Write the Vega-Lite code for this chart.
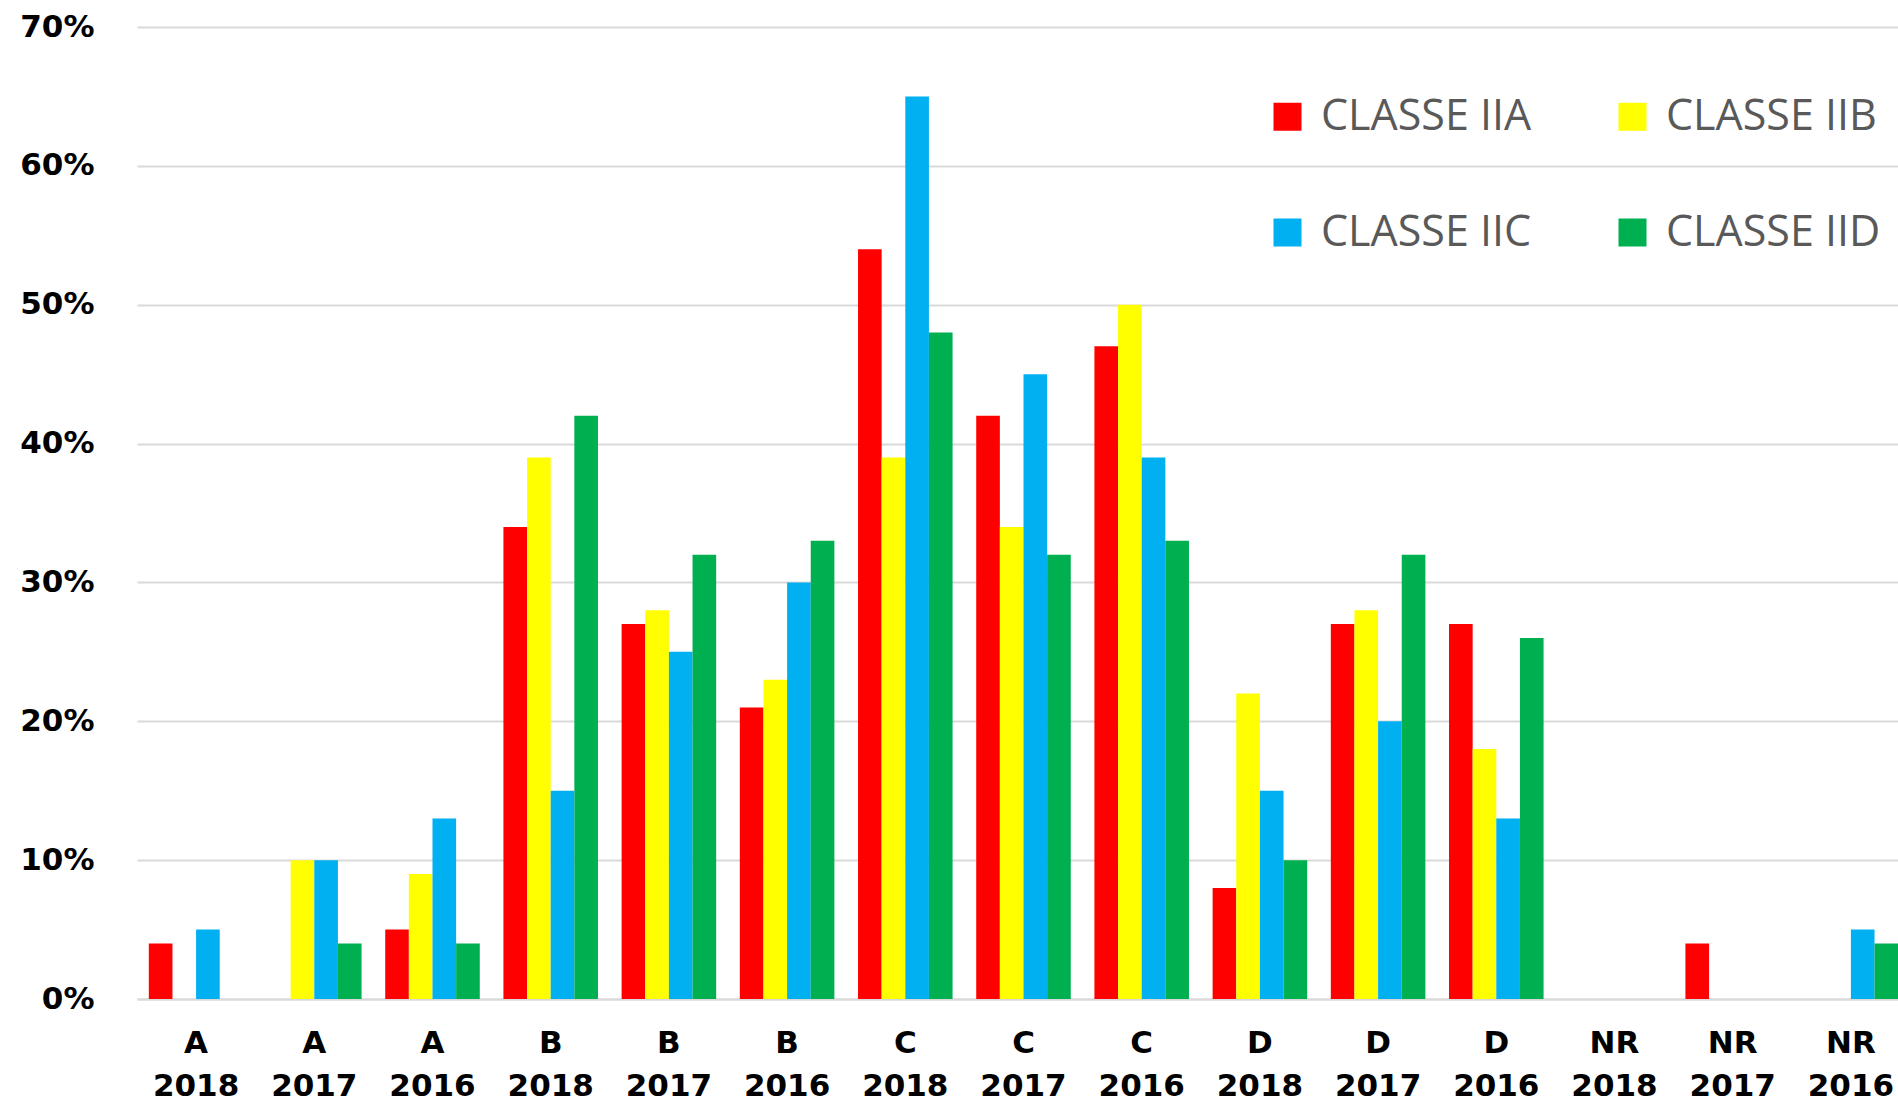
{
  "$schema": "https://vega.github.io/schema/vega-lite/v6.json",
  "autosize": {"type": "none"},
  "width": 1761,
  "height": 972,
  "padding": {"left": 137, "top": 27, "right": 0, "bottom": 103},
  "background": "#ffffff",
  "config": {"view": {"stroke": null}},
  "data": {"values": [
    {"g": "A 2018", "c": "CLASSE IIA", "v": 0.04}, {"g": "A 2018", "c": "CLASSE IIB", "v": 0}, {"g": "A 2018", "c": "CLASSE IIC", "v": 0.05}, {"g": "A 2018", "c": "CLASSE IID", "v": 0},
    {"g": "A 2017", "c": "CLASSE IIA", "v": 0}, {"g": "A 2017", "c": "CLASSE IIB", "v": 0.10}, {"g": "A 2017", "c": "CLASSE IIC", "v": 0.10}, {"g": "A 2017", "c": "CLASSE IID", "v": 0.04},
    {"g": "A 2016", "c": "CLASSE IIA", "v": 0.05}, {"g": "A 2016", "c": "CLASSE IIB", "v": 0.09}, {"g": "A 2016", "c": "CLASSE IIC", "v": 0.13}, {"g": "A 2016", "c": "CLASSE IID", "v": 0.04},
    {"g": "B 2018", "c": "CLASSE IIA", "v": 0.34}, {"g": "B 2018", "c": "CLASSE IIB", "v": 0.39}, {"g": "B 2018", "c": "CLASSE IIC", "v": 0.15}, {"g": "B 2018", "c": "CLASSE IID", "v": 0.42},
    {"g": "B 2017", "c": "CLASSE IIA", "v": 0.27}, {"g": "B 2017", "c": "CLASSE IIB", "v": 0.28}, {"g": "B 2017", "c": "CLASSE IIC", "v": 0.25}, {"g": "B 2017", "c": "CLASSE IID", "v": 0.32},
    {"g": "B 2016", "c": "CLASSE IIA", "v": 0.21}, {"g": "B 2016", "c": "CLASSE IIB", "v": 0.23}, {"g": "B 2016", "c": "CLASSE IIC", "v": 0.30}, {"g": "B 2016", "c": "CLASSE IID", "v": 0.33},
    {"g": "C 2018", "c": "CLASSE IIA", "v": 0.54}, {"g": "C 2018", "c": "CLASSE IIB", "v": 0.39}, {"g": "C 2018", "c": "CLASSE IIC", "v": 0.65}, {"g": "C 2018", "c": "CLASSE IID", "v": 0.48},
    {"g": "C 2017", "c": "CLASSE IIA", "v": 0.42}, {"g": "C 2017", "c": "CLASSE IIB", "v": 0.34}, {"g": "C 2017", "c": "CLASSE IIC", "v": 0.45}, {"g": "C 2017", "c": "CLASSE IID", "v": 0.32},
    {"g": "C 2016", "c": "CLASSE IIA", "v": 0.47}, {"g": "C 2016", "c": "CLASSE IIB", "v": 0.50}, {"g": "C 2016", "c": "CLASSE IIC", "v": 0.39}, {"g": "C 2016", "c": "CLASSE IID", "v": 0.33},
    {"g": "D 2018", "c": "CLASSE IIA", "v": 0.08}, {"g": "D 2018", "c": "CLASSE IIB", "v": 0.22}, {"g": "D 2018", "c": "CLASSE IIC", "v": 0.15}, {"g": "D 2018", "c": "CLASSE IID", "v": 0.10},
    {"g": "D 2017", "c": "CLASSE IIA", "v": 0.27}, {"g": "D 2017", "c": "CLASSE IIB", "v": 0.28}, {"g": "D 2017", "c": "CLASSE IIC", "v": 0.20}, {"g": "D 2017", "c": "CLASSE IID", "v": 0.32},
    {"g": "D 2016", "c": "CLASSE IIA", "v": 0.27}, {"g": "D 2016", "c": "CLASSE IIB", "v": 0.18}, {"g": "D 2016", "c": "CLASSE IIC", "v": 0.13}, {"g": "D 2016", "c": "CLASSE IID", "v": 0.26},
    {"g": "NR 2018", "c": "CLASSE IIA", "v": 0}, {"g": "NR 2018", "c": "CLASSE IIB", "v": 0}, {"g": "NR 2018", "c": "CLASSE IIC", "v": 0}, {"g": "NR 2018", "c": "CLASSE IID", "v": 0},
    {"g": "NR 2017", "c": "CLASSE IIA", "v": 0.04}, {"g": "NR 2017", "c": "CLASSE IIB", "v": 0}, {"g": "NR 2017", "c": "CLASSE IIC", "v": 0}, {"g": "NR 2017", "c": "CLASSE IID", "v": 0},
    {"g": "NR 2016", "c": "CLASSE IIA", "v": 0}, {"g": "NR 2016", "c": "CLASSE IIB", "v": 0}, {"g": "NR 2016", "c": "CLASSE IIC", "v": 0.05}, {"g": "NR 2016", "c": "CLASSE IID", "v": 0.04}
  ]},
  "mark": {"type": "bar", "strokeWidth": 0},
  "encoding": {
    "x": {
      "field": "g", "type": "nominal",
      "scale": {
        "domain": ["A 2018", "A 2017", "A 2016", "B 2018", "B 2017", "B 2016", "C 2018", "C 2017", "C 2016", "D 2018", "D 2017", "D 2016", "NR 2018", "NR 2017", "NR 2016"],
        "range": [0, 1773], "paddingInner": 0.2, "paddingOuter": 0.1
      },
      "axis": {
        "title": null, "labelAngle": 0, "ticks": false,
        "domain": true, "domainColor": "#d9d9d9", "domainWidth": 2,
        "labelExpr": "split(datum.label, ' ')",
        "labelFont": "DejaVu Sans", "labelFontWeight": "bold", "labelFontSize": 31,
        "labelColor": "#000000", "labelLineHeight": 43, "labelPadding": 29,
        "labelBaseline": "top", "labelOverlap": false, "labelBound": false, "labelFlush": false
      }
    },
    "xOffset": {"field": "c", "type": "nominal", "scale": {"paddingInner": 0}},
    "y": {
      "field": "v", "type": "quantitative",
      "scale": {"domain": [0, 0.7], "nice": false},
      "axis": {
        "title": null, "format": ".0%", "values": [0, 0.1, 0.2, 0.3, 0.4, 0.5, 0.6, 0.7],
        "domain": false, "ticks": false, "grid": true, "gridColor": "#d9d9d9", "gridWidth": 2,
        "labelFont": "DejaVu Sans", "labelFontWeight": "bold", "labelFontSize": 31,
        "labelColor": "#000000", "labelPadding": 43
      }
    },
    "color": {
      "field": "c", "type": "nominal",
      "scale": {"domain": ["CLASSE IIA", "CLASSE IIB", "CLASSE IIC", "CLASSE IID"], "range": ["#ff0000", "#ffff00", "#00b0f0", "#00b050"]},
      "legend": {
        "title": null, "orient": "none", "legendX": 1129, "legendY": 68,
        "direction": "horizontal",
        "columns": 2, "columnPadding": 79, "rowPadding": 72, "padding": 0,
        "symbolType": "square", "symbolSize": 784, "symbolStrokeWidth": 0, "symbolOpacity": 1,
        "labelFont": "Open Sans", "labelFontSize": 43, "labelColor": "#595959", "labelOffset": 12, "labelLimit": 400
      }
    }
  }
}
